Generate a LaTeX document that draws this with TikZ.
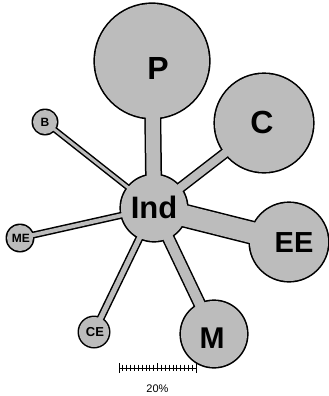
\documentclass[tikz,border=0pt]{standalone}
\usepackage{fontspec}
\setmainfont{Liberation Sans}
\usetikzlibrary{calc}
\definecolor{stip}{RGB}{188,188,188}
\tikzset{
  lab/.style={font=\bfseries, inner sep=0pt, text=black},
}
\begin{document}
\begin{tikzpicture}[x=1pt,y=-1pt]
\useasboundingbox (0,0) rectangle (329,396);
% centres
\coordinate (Ind) at (154,208);
\coordinate (P) at (152,61);
\coordinate (C) at (264,123);
\coordinate (EE) at (289,242);
\coordinate (M) at (214,334);
\coordinate (CE) at (94,332);
\coordinate (ME) at (20,238);
\coordinate (B) at (45,122);
% black outline layer
\begin{scope}[black]
  \draw[line width=17pt] (Ind) -- (P);
  \draw[line width=11pt] (Ind) -- (C);
  \draw[line width=24pt] (Ind) -- (EE);
  \draw[line width=13pt] (Ind) -- (M);
  \draw[line width=8pt] (Ind) -- (CE);
  \draw[line width=7pt] (Ind) -- (ME);
  \draw[line width=6pt] (Ind) -- (B);
  \fill (Ind) circle[radius=34.6pt];
  \fill (P) circle[radius=58.6pt];
  \fill (C) circle[radius=50.6pt];
  \fill (EE) circle[radius=40.6pt];
  \fill (M) circle[radius=34.6pt];
  \fill (CE) circle[radius=16.5pt];
  \fill (ME) circle[radius=14.5pt];
  \fill (B) circle[radius=13.5pt];
\end{scope}
% grey fill layer
\begin{scope}[stip]
  \draw[line width=14pt] (Ind) -- (P);
  \draw[line width=8pt] (Ind) -- (C);
  \draw[line width=21pt] (Ind) -- (EE);
  \draw[line width=10pt] (Ind) -- (M);
  \draw[line width=5pt] (Ind) -- (CE);
  \draw[line width=4pt] (Ind) -- (ME);
  \draw[line width=3pt] (Ind) -- (B);
  \fill (Ind) circle[radius=33pt];
  \fill (P) circle[radius=57pt];
  \fill (C) circle[radius=49pt];
  \fill (EE) circle[radius=39pt];
  \fill (M) circle[radius=33pt];
  \fill (CE) circle[radius=15pt];
  \fill (ME) circle[radius=13pt];
  \fill (B) circle[radius=12pt];
\end{scope}
% labels
\node[lab, font=\fontsize{32}{32}\selectfont\bfseries] (Pl) at (158,68) {P};
\node[lab, font=\fontsize{32}{32}\selectfont\bfseries] (Cl) at (262,122) {C};
\node[lab, font=\fontsize{31}{31}\selectfont\bfseries] (Indl) at (154,207) {Ind};
\node[lab, font=\fontsize{29}{29}\selectfont\bfseries] (EEl) at (294,243) {EE};
\node[lab, font=\fontsize{30}{30}\selectfont\bfseries] (Ml) at (212,338) {M};
\node[lab, font=\fontsize{13}{13}\selectfont\bfseries] (CEl) at (95,332) {CE};
\node[lab, font=\fontsize{12}{12}\selectfont\bfseries] (MEl) at (21,238) {ME};
\node[lab, font=\fontsize{12}{12}\selectfont\bfseries] (Bl) at (45,122) {B};
% scale bar
\coordinate (SL) at (119,368);
\coordinate (SR) at (196,368);
\draw[line width=1pt] (SL) -- (SR);
\foreach \i in {1,...,19}{
  \draw[line width=0.8pt] ($(SL)!\i/20!(SR)$) ++(0,-3.5) -- ++(0,6);
}
\draw[line width=1pt] (SL) ++(0,-5) -- ++(0,10);
\draw[line width=1pt] (SR) ++(0,-5) -- ++(0,10);
\draw[line width=1pt] ($(SL)!0.5!(SR)$) ++(0,-5) -- ++(0,8);
\node[font=\fontsize{11}{11}\selectfont, anchor=base, inner sep=0pt] (pct) at (157.5,392.5) {20\%};
\end{tikzpicture}
\end{document}
